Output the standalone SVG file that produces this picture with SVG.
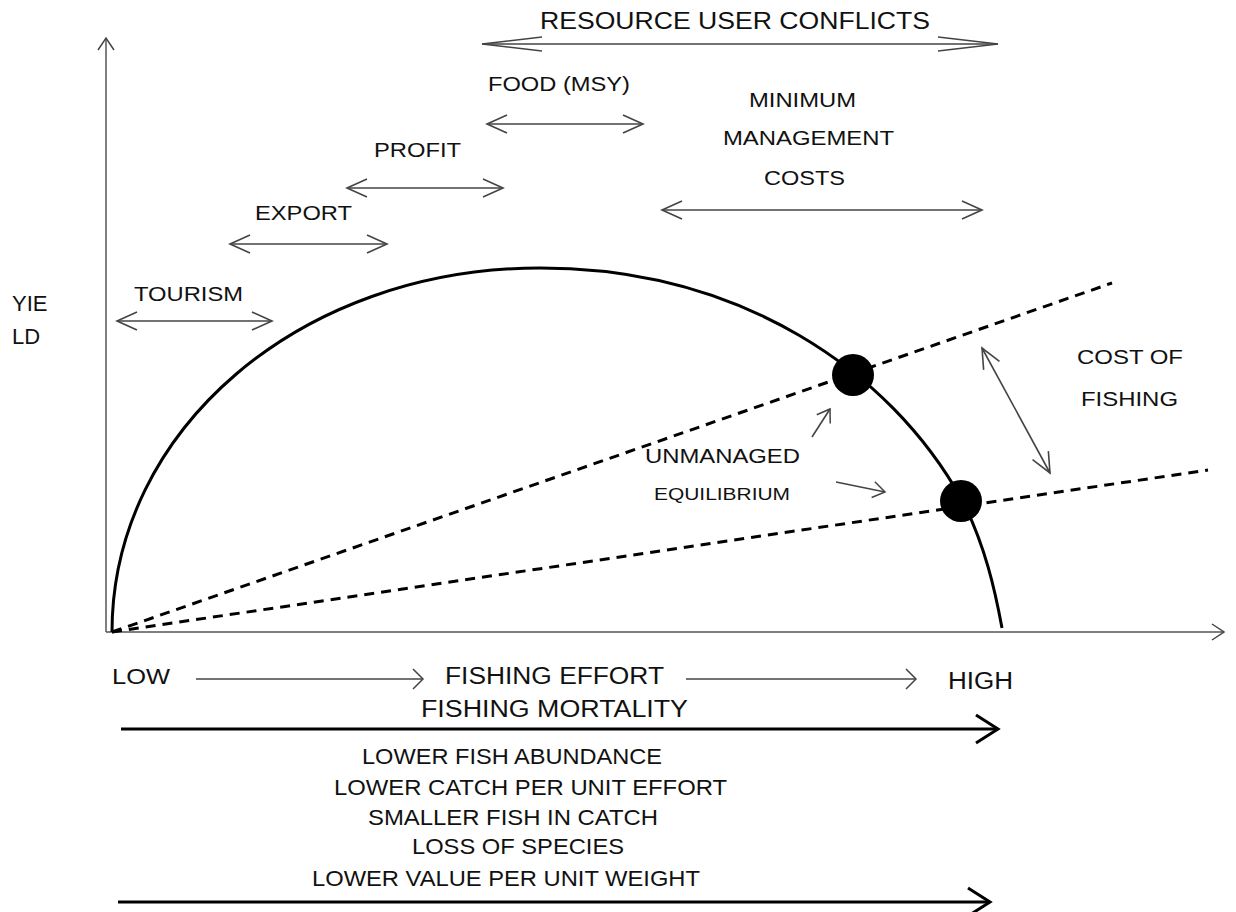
<svg xmlns="http://www.w3.org/2000/svg" width="1236" height="912" viewBox="0 0 1236 912">
<style>
text{font-family:"Liberation Sans",Arial,sans-serif;fill:#111;}
.ax{stroke:#555;stroke-width:1.5;fill:none;}
.thin{stroke:#444;stroke-width:1.6;fill:none;}
.thick{stroke:#000;stroke-width:3;fill:none;}
.dash{stroke:#000;stroke-width:3;fill:none;stroke-dasharray:10,7;}
</style>
<defs>
<marker id="hd" markerUnits="userSpaceOnUse" viewBox="-24 -12 26 24" markerWidth="26" markerHeight="24" refX="0" refY="0" orient="auto-start-reverse" overflow="visible">
<path d="M-20,-9 L0,0 L-20,9" fill="none" stroke="#444" stroke-width="1.6"/>
</marker>
<marker id="hdl" markerUnits="userSpaceOnUse" viewBox="-64 -10 66 20" markerWidth="66" markerHeight="20" refX="0" refY="0" orient="auto-start-reverse" overflow="visible">
<path d="M-60,-7 L0,0 L-60,7" fill="none" stroke="#444" stroke-width="1.4"/>
</marker>
<marker id="hda" markerUnits="userSpaceOnUse" viewBox="-16 -10 18 20" markerWidth="18" markerHeight="20" refX="0" refY="0" orient="auto" overflow="visible">
<path d="M-12,-8 L0,0 L-12,8" fill="none" stroke="#444" stroke-width="1.5"/>
</marker>
<marker id="hdf" markerUnits="userSpaceOnUse" viewBox="-14 -12 16 24" markerWidth="16" markerHeight="24" refX="0" refY="0" orient="auto" overflow="visible">
<path d="M-10,-10 L0,0 L-10,10" fill="none" stroke="#444" stroke-width="1.5"/>
</marker>
<marker id="hdt" markerUnits="userSpaceOnUse" viewBox="-28 -16 30 32" markerWidth="30" markerHeight="32" refX="0" refY="0" orient="auto" overflow="visible">
<path d="M-22,-14 L0,0 L-22,14" fill="none" stroke="#000" stroke-width="3"/>
</marker>
</defs>

<g id="axes">
<line class="ax" x1="106" y1="632" x2="106" y2="38" marker-end="url(#hda)"/>
<line class="ax" x1="106" y1="632" x2="1224" y2="632" marker-end="url(#hda)"/>
</g>

<g id="yield-curve">
<path d="M112,632 C112,430 300,268 540,268 C740,268 890,370 962,500 C985,545 995,590 1002,628" fill="none" stroke="#000" stroke-width="3"/>
</g>

<g id="cost-lines">
<line class="dash" x1="112" y1="632" x2="1112" y2="283"/>
<line class="dash" x1="112" y1="632" x2="1208" y2="470"/>
</g>

<g id="equilibria">
<circle cx="853" cy="375" r="21" fill="#000"/>
<circle cx="961" cy="501" r="21" fill="#000"/>
</g>

<g id="connectors">
<line class="thin" x1="482" y1="44" x2="998" y2="44" marker-start="url(#hdl)" marker-end="url(#hdl)"/>
<line class="thin" x1="487" y1="124" x2="643" y2="124" marker-start="url(#hd)" marker-end="url(#hd)"/>
<line class="thin" x1="347" y1="188" x2="503" y2="188" marker-start="url(#hd)" marker-end="url(#hd)"/>
<line class="thin" x1="230" y1="244" x2="387" y2="244" marker-start="url(#hd)" marker-end="url(#hd)"/>
<line class="thin" x1="117" y1="321" x2="272" y2="321" marker-start="url(#hd)" marker-end="url(#hd)"/>
<line class="thin" x1="662" y1="210" x2="982" y2="210" marker-start="url(#hd)" marker-end="url(#hd)"/>
<line class="thin" x1="982" y1="348" x2="1050" y2="473" marker-start="url(#hd)" marker-end="url(#hd)"/>
<line class="thin" x1="812" y1="437" x2="830" y2="409" marker-end="url(#hda)"/>
<line class="thin" x1="836" y1="482" x2="885" y2="492" marker-end="url(#hda)"/>
<line class="thin" x1="196" y1="679" x2="423" y2="679" marker-end="url(#hdf)"/>
<line class="thin" x1="686" y1="679" x2="916" y2="679" marker-end="url(#hdf)"/>
<line class="thick" x1="121" y1="729" x2="998" y2="729" marker-end="url(#hdt)"/>
<line class="thick" x1="118" y1="902" x2="990" y2="902" marker-end="url(#hdt)"/>
</g>

<g id="labels">
<text x="540" y="29" font-size="24" textLength="390" lengthAdjust="spacingAndGlyphs">RESOURCE USER CONFLICTS</text>
<text x="488" y="91" font-size="20" textLength="142" lengthAdjust="spacingAndGlyphs">FOOD (MSY)</text>
<text x="749" y="107" font-size="20" textLength="107" lengthAdjust="spacingAndGlyphs">MINIMUM</text>
<text x="723" y="145" font-size="20" textLength="171" lengthAdjust="spacingAndGlyphs">MANAGEMENT</text>
<text x="764" y="185" font-size="20" textLength="81" lengthAdjust="spacingAndGlyphs">COSTS</text>
<text x="374" y="157" font-size="20" textLength="87" lengthAdjust="spacingAndGlyphs">PROFIT</text>
<text x="255" y="220" font-size="20" textLength="97" lengthAdjust="spacingAndGlyphs">EXPORT</text>
<text x="134" y="301" font-size="20" textLength="109" lengthAdjust="spacingAndGlyphs">TOURISM</text>
<text x="12" y="311" font-size="22">YIE</text>
<text x="12" y="344" font-size="22">LD</text>
<text x="1077" y="364" font-size="20" textLength="106" lengthAdjust="spacingAndGlyphs">COST OF</text>
<text x="1081" y="406" font-size="20" textLength="97" lengthAdjust="spacingAndGlyphs">FISHING</text>
<text x="645" y="463" font-size="20" textLength="155" lengthAdjust="spacingAndGlyphs">UNMANAGED</text>
<text x="654" y="500" font-size="16" textLength="136" lengthAdjust="spacingAndGlyphs">EQUILIBRIUM</text>
<text x="112" y="684" font-size="22" textLength="58" lengthAdjust="spacingAndGlyphs">LOW</text>
<text x="445" y="684" font-size="23" textLength="219" lengthAdjust="spacingAndGlyphs">FISHING EFFORT</text>
<text x="948" y="689" font-size="23" textLength="65" lengthAdjust="spacingAndGlyphs">HIGH</text>
<text x="421" y="717" font-size="23" textLength="267" lengthAdjust="spacingAndGlyphs">FISHING MORTALITY</text>
<text x="362" y="764" font-size="22" textLength="300" lengthAdjust="spacingAndGlyphs">LOWER FISH ABUNDANCE</text>
<text x="334" y="795" font-size="22" textLength="393" lengthAdjust="spacingAndGlyphs">LOWER CATCH PER UNIT EFFORT</text>
<text x="368" y="825" font-size="22" textLength="290" lengthAdjust="spacingAndGlyphs">SMALLER FISH IN CATCH</text>
<text x="412" y="854" font-size="22" textLength="212" lengthAdjust="spacingAndGlyphs">LOSS OF SPECIES</text>
<text x="312" y="886" font-size="22" textLength="388" lengthAdjust="spacingAndGlyphs">LOWER VALUE PER UNIT WEIGHT</text>
</g>
</svg>
